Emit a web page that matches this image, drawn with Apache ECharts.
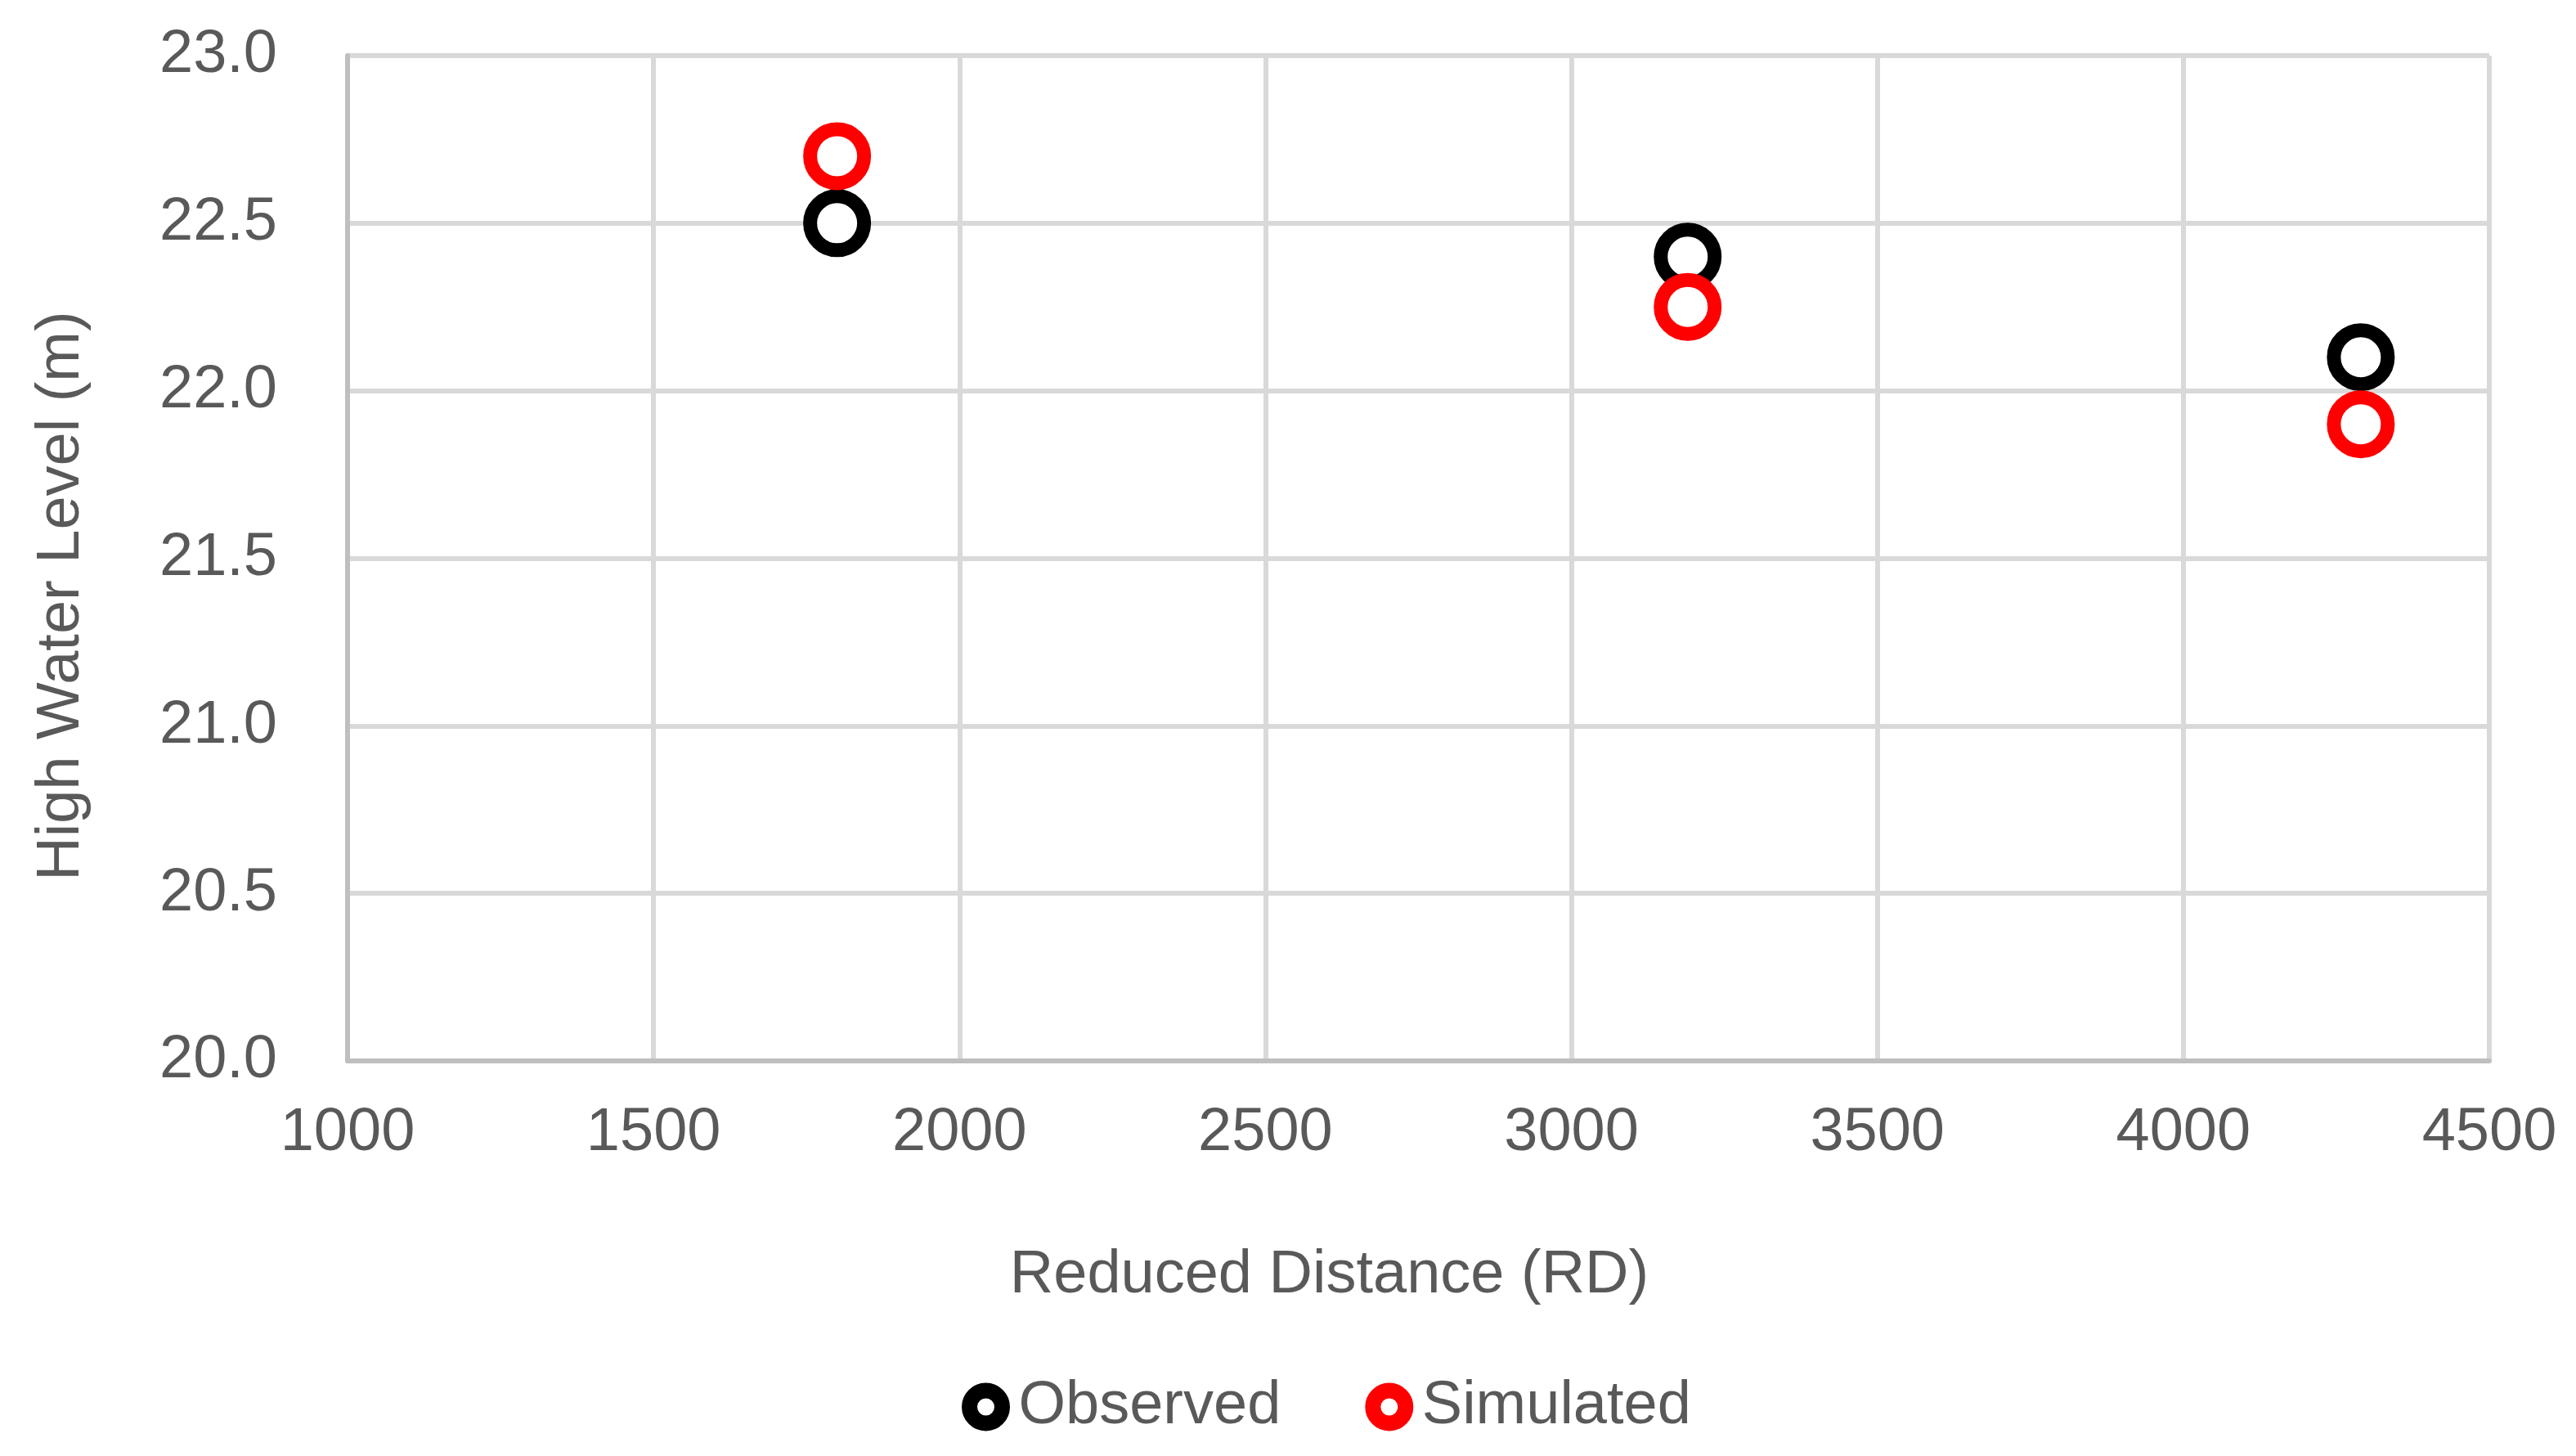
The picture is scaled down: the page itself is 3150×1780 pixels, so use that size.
<!DOCTYPE html>
<html>
<head>
<meta charset="utf-8">
<script src="https://cdn.jsdelivr.net/npm/echarts@6/dist/echarts.min.js"></script>
<style>
  html, body { margin: 0; padding: 0; background: #fff; }
  #chart { width: 3150px; height: 1780px; }
</style>
</head>
<body>
<div id="chart"></div>
<script>
// 数据（读自参考图）
var seriesNames = ['Observed', 'Simulated'];
var distances = [1800, 3190, 4290];
var observed = [22.5, 22.4, 22.1];
var simulated = [22.7, 22.25, 21.9];
var seriesColors = ['#000000', '#ff0000'];

var chart = echarts.init(document.getElementById('chart'));

function pairs(xs, ys) {
  return xs.map(function (x, i) { return [x, ys[i]]; });
}

var font = 'Liberation Sans, Arial, sans-serif';
var textColor = '#595959';

var option = {
  backgroundColor: '#ffffff',
  animation: false,
  grid: {
    left: 425,
    right: 106,
    top: 68,
    bottom: 483
  },
  xAxis: {
    type: 'value',
    min: 1000,
    max: 4500,
    interval: 500,
    name: 'Reduced Distance (RD)',
    nameLocation: 'middle',
    nameGap: 226,
    nameTextStyle: { fontFamily: font, fontSize: 74, color: textColor, padding: [0, 218, 0, 0] },
    axisLine: { show: true, lineStyle: { color: '#bfbfbf', width: 6 } },
    axisTick: { show: false },
    axisLabel: {
      fontFamily: font, fontSize: 74, color: textColor, margin: 52,
      formatter: function (v) { return String(v); }
    },
    splitLine: { show: true, lineStyle: { color: '#d9d9d9', width: 6 } }
  },
  yAxis: {
    type: 'value',
    min: 20,
    max: 23,
    interval: 0.5,
    name: 'High Water Level (m)',
    nameLocation: 'middle',
    nameGap: 312,
    nameTextStyle: { fontFamily: font, fontSize: 74, color: textColor, padding: [0, 92, 0, 0] },
    axisLine: { show: true, lineStyle: { color: '#bfbfbf', width: 6 } },
    axisTick: { show: false },
    axisLabel: {
      fontFamily: font, fontSize: 74, color: textColor, margin: 86,
      formatter: function (v) { return v.toFixed(1); }
    },
    splitLine: { show: true, lineStyle: { color: '#d9d9d9', width: 6 } }
  },
  legend: {
    left: 1171,
    top: 1678,
    itemWidth: 40,
    itemHeight: 40,
    itemGap: 103,
    icon: 'circle',
    textStyle: { fontFamily: font, fontSize: 74, color: textColor, padding: [0, 0, 0, 15] },
    itemStyle: { borderWidth: 19 },
    data: seriesNames
  },
  series: seriesNames.map(function (name, i) {
    return {
      name: name,
      type: 'scatter',
      symbol: 'circle',
      symbolSize: 66,
      itemStyle: { color: '#ffffff', borderColor: seriesColors[i], borderWidth: 17, opacity: 1 },
      data: pairs(distances, i === 0 ? observed : simulated)
    };
  })
};

chart.setOption(option);
</script>
</body>
</html>
